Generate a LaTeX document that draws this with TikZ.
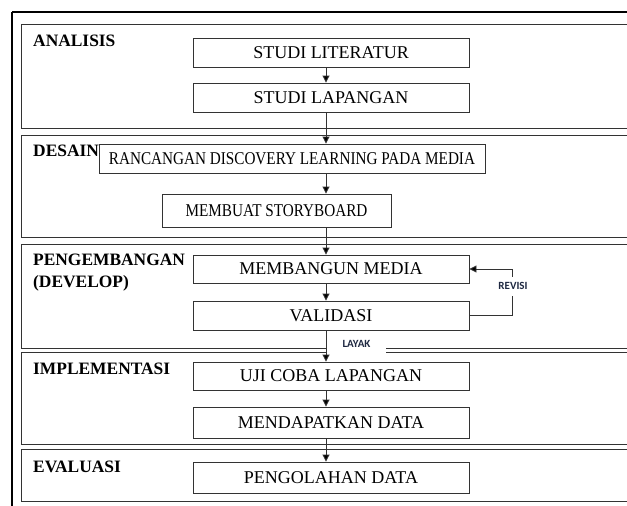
\documentclass[tikz,border=0pt]{standalone}
\usepackage{fontspec}
\setmainfont{Liberation Serif}
\newfontfamily\notefont{Carlito}
\newfontfamily\narrowfont[FakeStretch=0.845]{Liberation Serif}
\usetikzlibrary{arrows.meta,calc}
\definecolor{LineClr}{rgb}{0.2,0.2,0.2}
\definecolor{NoteClr}{rgb}{0.12,0.16,0.26}

\begin{document}
\begin{tikzpicture}[x=1pt,y=-1pt,
  stepbox/.style={draw=LineClr,line width=0.9pt,minimum width=276pt,minimum height=29pt,
    inner sep=0pt,font=\fontsize{18}{20}\selectfont},
  phase/.style={anchor=north west,inner sep=0pt,align=left,
    font=\fontsize{17.4}{22}\selectfont\bfseries},
  flow/.style={-{Triangle[length=7pt,width=7pt,fill=black]},draw=LineClr,line width=0.9pt},
  note/.style={fill=white,inner sep=0pt,text=NoteClr,
    font=\notefont\bfseries\fontsize{11}{12}\selectfont}]
\useasboundingbox (0,0) rectangle (627,506);
\clip (0,0) rectangle (627,506);

% outer frame
\draw[line width=2.5pt] (12,12) -- (660,12);
\draw[line width=2.5pt] (12,12) -- (12,530);

% phases
\draw[LineClr,line width=0.9pt] (21,24) rectangle (660,128);
\draw[LineClr,line width=0.9pt] (21,135) rectangle (660,237);
\draw[LineClr,line width=0.9pt] (21,244) rectangle (660,348);
\draw[LineClr,line width=0.9pt] (21,352) rectangle (660,444);
\draw[LineClr,line width=0.9pt] (21,449) rectangle (660,501);

\node[phase] (pAnalisis) at (33,35) {ANALISIS};
\node[phase] (pDesain) at (33,145) {DESAIN};
\node[phase] (pDevelop) at (33,254) {PENGEMBANGAN\\(DEVELOP)};
\node[phase] (pImpl) at (33,363) {IMPLEMENTASI};
\node[phase] (pEval) at (33,461) {EVALUASI};

% steps
\node[stepbox] (lit) at (331,52.5) {STUDI LITERATUR};
\node[stepbox] (lap) at (331,97.5) {STUDI LAPANGAN};
\node[stepbox,minimum width=386pt,font=\narrowfont\fontsize{18}{20}\selectfont] (ranc) at (292,158.5) {RANCANGAN DISCOVERY LEARNING PADA MEDIA};
\node[stepbox,minimum width=229pt,minimum height=33pt,font=\narrowfont\fontsize{18}{20}\selectfont] (story) at (276.5,210.5) {MEMBUAT STORYBOARD};
\node[stepbox,minimum height=28pt] (bangun) at (331,269) {MEMBANGUN MEDIA};
\node[stepbox] (valid) at (331,315.5) {VALIDASI};
\node[stepbox,minimum height=28pt] (uji) at (331,376) {UJI COBA LAPANGAN};
\node[stepbox,minimum height=31pt] (dapat) at (331,422.5) {MENDAPATKAN DATA};
\node[stepbox,minimum height=31pt] (olah) at (331,477.5) {PENGOLAHAN DATA};

\node[note,minimum width=59pt,minimum height=20pt] (layak) at (356.5,344) {LAYAK};

% flow
\coordinate (ax) at (326,0);
\coordinate (rv) at (512,0);
\draw[flow] (lit.south -| ax) -- (lap.north -| ax);
\draw[flow] (lap.south -| ax) -- (ranc.north -| ax);
\draw[flow] (ranc.south -| ax) -- (story.north -| ax);
\draw[flow] (story.south -| ax) -- (bangun.north -| ax);
\draw[flow] (bangun.south -| ax) -- (valid.north -| ax);
\draw[flow] (valid.south -| ax) -- (uji.north -| ax);
\draw[flow] (uji.south -| ax) -- (dapat.north -| ax);
\draw[flow] (dapat.south -| ax) -- (olah.north -| ax);

\draw[flow] (valid.east) -- (valid.east -| rv) -- (bangun.east -| rv) -- (bangun.east);
\node[note,minimum height=19pt] (revisi) at (513,286) {REVISI};

\end{tikzpicture}
\end{document}
